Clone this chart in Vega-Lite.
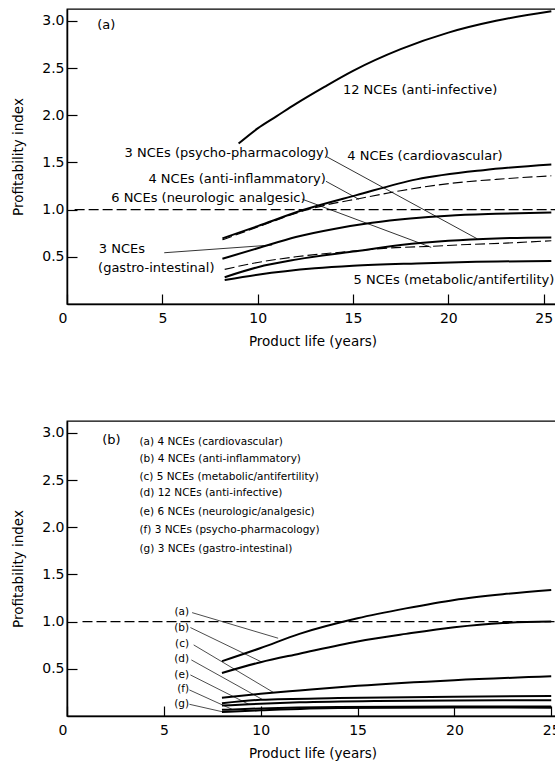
{
  "$schema": "https://vega.github.io/schema/vega-lite/v6.json",
  "padding": {"left": 10, "top": 6, "right": 0, "bottom": 0},
  "background": "white",
  "config": {
    "view": {"stroke": "black", "strokeWidth": 1.3},
    "font": "DejaVu Sans",
    "axis": {
      "grid": false,
      "domainColor": "black",
      "domainWidth": 1.5,
      "tickColor": "black",
      "tickWidth": 1.2,
      "tickSize": -10,
      "labelColor": "black",
      "titleColor": "black",
      "labelFont": "DejaVu Sans",
      "titleFont": "DejaVu Sans",
      "labelFontSize": 14,
      "titleFontSize": 13.5,
      "titleFontWeight": "normal"
    }
  },
  "datasets": {
    "curvesA": [
      {"series": "anti-infective", "t": 9.0, "v": 1.70},
      {"series": "anti-infective", "t": 10, "v": 1.86},
      {"series": "anti-infective", "t": 11, "v": 1.99},
      {"series": "anti-infective", "t": 12, "v": 2.12},
      {"series": "anti-infective", "t": 13.5, "v": 2.30},
      {"series": "anti-infective", "t": 15, "v": 2.47},
      {"series": "anti-infective", "t": 17.5, "v": 2.70},
      {"series": "anti-infective", "t": 20, "v": 2.875},
      {"series": "anti-infective", "t": 22.5, "v": 3.0},
      {"series": "anti-infective", "t": 25.4, "v": 3.10},
      {"series": "cardiovascular", "t": 8.15, "v": 0.695},
      {"series": "cardiovascular", "t": 10, "v": 0.825},
      {"series": "cardiovascular", "t": 12.38, "v": 0.995},
      {"series": "cardiovascular", "t": 15.18, "v": 1.153},
      {"series": "cardiovascular", "t": 18.33, "v": 1.32},
      {"series": "cardiovascular", "t": 21.83, "v": 1.418},
      {"series": "cardiovascular", "t": 25.4, "v": 1.478},
      {"series": "gastro-intestinal", "t": 8.15, "v": 0.48},
      {"series": "gastro-intestinal", "t": 10, "v": 0.59},
      {"series": "gastro-intestinal", "t": 12, "v": 0.71},
      {"series": "gastro-intestinal", "t": 14, "v": 0.795},
      {"series": "gastro-intestinal", "t": 16, "v": 0.86},
      {"series": "gastro-intestinal", "t": 18, "v": 0.905},
      {"series": "gastro-intestinal", "t": 20, "v": 0.935},
      {"series": "gastro-intestinal", "t": 22.5, "v": 0.955},
      {"series": "gastro-intestinal", "t": 25.4, "v": 0.97},
      {"series": "psycho-pharmacology", "t": 8.27, "v": 0.284},
      {"series": "psycho-pharmacology", "t": 10, "v": 0.39},
      {"series": "psycho-pharmacology", "t": 12, "v": 0.47},
      {"series": "psycho-pharmacology", "t": 15, "v": 0.555},
      {"series": "psycho-pharmacology", "t": 17.5, "v": 0.625},
      {"series": "psycho-pharmacology", "t": 20, "v": 0.67},
      {"series": "psycho-pharmacology", "t": 22.5, "v": 0.695},
      {"series": "psycho-pharmacology", "t": 25.4, "v": 0.705},
      {"series": "metabolic/antifertility", "t": 8.27, "v": 0.254},
      {"series": "metabolic/antifertility", "t": 10, "v": 0.31},
      {"series": "metabolic/antifertility", "t": 13, "v": 0.378},
      {"series": "metabolic/antifertility", "t": 15, "v": 0.405},
      {"series": "metabolic/antifertility", "t": 18.33, "v": 0.43},
      {"series": "metabolic/antifertility", "t": 21, "v": 0.445},
      {"series": "metabolic/antifertility", "t": 25.4, "v": 0.455}
    ],
    "dashedA": [
      {"series": "anti-inflammatory", "t": 8.15, "v": 0.68},
      {"series": "anti-inflammatory", "t": 10, "v": 0.815},
      {"series": "anti-inflammatory", "t": 12.38, "v": 0.985},
      {"series": "anti-inflammatory", "t": 13.5, "v": 1.045},
      {"series": "anti-inflammatory", "t": 15.36, "v": 1.118},
      {"series": "anti-inflammatory", "t": 17.5, "v": 1.2},
      {"series": "anti-inflammatory", "t": 20.08, "v": 1.277},
      {"series": "anti-inflammatory", "t": 22.5, "v": 1.32},
      {"series": "anti-inflammatory", "t": 25.4, "v": 1.358},
      {"series": "neurologic analgesic", "t": 8.27, "v": 0.367},
      {"series": "neurologic analgesic", "t": 10, "v": 0.44},
      {"series": "neurologic analgesic", "t": 12, "v": 0.50},
      {"series": "neurologic analgesic", "t": 15, "v": 0.56},
      {"series": "neurologic analgesic", "t": 17, "v": 0.595},
      {"series": "neurologic analgesic", "t": 19, "v": 0.61},
      {"series": "neurologic analgesic", "t": 21, "v": 0.63},
      {"series": "neurologic analgesic", "t": 23, "v": 0.645},
      {"series": "neurologic analgesic", "t": 25.4, "v": 0.67}
    ],
    "refA": [{"t": 0.4, "v": 1.0}, {"t": 25.75, "v": 1.0}],
    "refB": [{"t": 0.8, "v": 1.0}, {"t": 25.35, "v": 1.0}],
    "labelsA": [
      {"label": "(a)", "t": 1.58, "v": 2.96},
      {"label": "12 NCEs (anti-infective)", "t": 14.47, "v": 2.27},
      {"label": "3 NCEs (psycho-pharmacology)", "t": 3.02, "v": 1.60},
      {"label": "4 NCEs (cardiovascular)", "t": 14.7, "v": 1.57},
      {"label": "4 NCEs (anti-inflammatory)", "t": 4.27, "v": 1.32},
      {"label": "6 NCEs (neurologic analgesic)", "t": 2.32, "v": 1.125},
      {"label": "3 NCEs", "t": 1.67, "v": 0.586},
      {"label": "(gastro-intestinal)", "t": 1.63, "v": 0.383},
      {"label": "5 NCEs (metabolic/antifertility)", "t": 15.03, "v": 0.25}
    ],
    "leadersA": [
      {"t1": 13.62, "v1": 1.56, "t2": 21.52, "v2": 0.69},
      {"t1": 13.58, "v1": 1.30, "t2": 15.3, "v2": 1.11},
      {"t1": 12.34, "v1": 1.11, "t2": 19.1, "v2": 0.60},
      {"t1": 5.1, "v1": 0.543, "t2": 10.76, "v2": 0.625}
    ],
    "curvesB": [
      {"series": "a", "t": 8, "v": 0.58},
      {"series": "a", "t": 10, "v": 0.72},
      {"series": "a", "t": 12, "v": 0.87},
      {"series": "a", "t": 15, "v": 1.035},
      {"series": "a", "t": 17.5, "v": 1.14},
      {"series": "a", "t": 20, "v": 1.23},
      {"series": "a", "t": 22.5, "v": 1.29},
      {"series": "a", "t": 25, "v": 1.335},
      {"series": "b", "t": 8, "v": 0.456},
      {"series": "b", "t": 10, "v": 0.57},
      {"series": "b", "t": 12, "v": 0.66},
      {"series": "b", "t": 15, "v": 0.79},
      {"series": "b", "t": 17.5, "v": 0.87},
      {"series": "b", "t": 20, "v": 0.94},
      {"series": "b", "t": 22.5, "v": 0.985},
      {"series": "b", "t": 25, "v": 1.0},
      {"series": "c", "t": 8, "v": 0.194},
      {"series": "c", "t": 10, "v": 0.235},
      {"series": "c", "t": 12, "v": 0.27},
      {"series": "c", "t": 15, "v": 0.32},
      {"series": "c", "t": 20, "v": 0.38},
      {"series": "c", "t": 25, "v": 0.42},
      {"series": "d", "t": 8, "v": 0.135},
      {"series": "d", "t": 10, "v": 0.172},
      {"series": "d", "t": 14, "v": 0.19},
      {"series": "d", "t": 20, "v": 0.205},
      {"series": "d", "t": 25, "v": 0.212},
      {"series": "e", "t": 8, "v": 0.11},
      {"series": "e", "t": 9.4, "v": 0.124},
      {"series": "e", "t": 12, "v": 0.145},
      {"series": "e", "t": 16, "v": 0.16},
      {"series": "e", "t": 20, "v": 0.165},
      {"series": "e", "t": 25, "v": 0.166},
      {"series": "f", "t": 8, "v": 0.065},
      {"series": "f", "t": 10, "v": 0.08},
      {"series": "f", "t": 14, "v": 0.095},
      {"series": "f", "t": 20, "v": 0.10},
      {"series": "f", "t": 25, "v": 0.10},
      {"series": "g", "t": 8, "v": 0.042},
      {"series": "g", "t": 10, "v": 0.06},
      {"series": "g", "t": 14, "v": 0.085},
      {"series": "g", "t": 20, "v": 0.09},
      {"series": "g", "t": 25, "v": 0.088}
    ],
    "panelLabelB": [{"label": "(b)", "t": 1.82, "v": 2.92}],
    "legendB": [
      {"label": "(a) 4 NCEs (cardiovascular)", "t": 3.74, "v": 2.90},
      {"label": "(b) 4 NCEs (anti-inflammatory)", "t": 3.74, "v": 2.72},
      {"label": "(c) 5 NCEs (metabolic/antifertility)", "t": 3.74, "v": 2.537},
      {"label": "(d) 12 NCEs (anti-infective)", "t": 3.74, "v": 2.361},
      {"label": "(e) 6 NCEs (neurologic/analgesic)", "t": 3.74, "v": 2.165},
      {"label": "(f) 3 NCEs (psycho-pharmacology)", "t": 3.74, "v": 1.972},
      {"label": "(g) 3 NCEs (gastro-intestinal)", "t": 3.74, "v": 1.772}
    ],
    "lettersB": [
      {"label": "(a)", "t": 6.3, "v": 1.098},
      {"label": "(b)", "t": 6.3, "v": 0.93},
      {"label": "(c)", "t": 6.3, "v": 0.765},
      {"label": "(d)", "t": 6.3, "v": 0.60},
      {"label": "(e)", "t": 6.3, "v": 0.439},
      {"label": "(f)", "t": 6.3, "v": 0.281},
      {"label": "(g)", "t": 6.3, "v": 0.123}
    ],
    "leadersB": [
      {"t1": 6.46, "v1": 1.095, "t2": 10.9, "v2": 0.824},
      {"t1": 6.37, "v1": 0.937, "t2": 10.04, "v2": 0.573},
      {"t1": 6.54, "v1": 0.753, "t2": 10.68, "v2": 0.247},
      {"t1": 6.42, "v1": 0.594, "t2": 10.07, "v2": 0.177},
      {"t1": 6.37, "v1": 0.435, "t2": 9.38, "v2": 0.124},
      {"t1": 6.32, "v1": 0.276, "t2": 8.52, "v2": 0.071},
      {"t1": 6.32, "v1": 0.124, "t2": 8.0, "v2": 0.046}
    ]
  },
  "bounds": "flush",
  "spacing": 117,
  "vconcat": [
    {
      "width": 491,
      "height": 295,
      "layer": [
        {
          "data": {"name": "refA"},
          "mark": {"type": "line", "color": "black", "strokeWidth": 1.1, "strokeDash": [10, 4]},
          "encoding": {
            "x": {
              "field": "t", "type": "quantitative",
              "scale": {"domain": [0, 25.75], "nice": false},
              "title": "Product life (years)",
              "axis": {
                "values": [0, 5, 10, 15, 20, 25], "format": "d", "labelPadding": 17.7,
                "labelAlign": {"condition": {"test": "datum.value === 0", "value": "right"}, "value": "center"},
                "titleY": 37, "titleBaseline": "middle"
              }
            },
            "y": {
              "field": "v", "type": "quantitative",
              "scale": {"domain": [0, 3.125], "nice": false},
              "title": "Profitability index",
              "axis": {"values": [0.5, 1, 1.5, 2, 2.5, 3], "format": ".1f", "labelPadding": 13, "titleX": -49, "titleBaseline": "middle"}
            }
          }
        },
        {
          "data": {"name": "curvesA"},
          "mark": {"type": "line", "color": "black", "strokeWidth": 2, "interpolate": "monotone"},
          "encoding": {
            "x": {"field": "t", "type": "quantitative"},
            "y": {"field": "v", "type": "quantitative"},
            "detail": {"field": "series"}
          }
        },
        {
          "data": {"name": "dashedA"},
          "mark": {"type": "line", "color": "black", "strokeWidth": 1.1, "strokeDash": [10, 4], "interpolate": "monotone"},
          "encoding": {
            "x": {"field": "t", "type": "quantitative"},
            "y": {"field": "v", "type": "quantitative"},
            "detail": {"field": "series"}
          }
        },
        {
          "data": {"name": "leadersA"},
          "mark": {"type": "rule", "color": "black", "strokeWidth": 0.8},
          "encoding": {
            "x": {"field": "t1", "type": "quantitative"},
            "y": {"field": "v1", "type": "quantitative"},
            "x2": {"field": "t2"},
            "y2": {"field": "v2"}
          }
        },
        {
          "data": {"name": "labelsA"},
          "mark": {"type": "text", "align": "left", "baseline": "middle", "fontSize": 13, "color": "black", "font": "DejaVu Sans"},
          "encoding": {
            "x": {"field": "t", "type": "quantitative"},
            "y": {"field": "v", "type": "quantitative"},
            "text": {"field": "label"}
          }
        }
      ]
    },
    {
      "width": 491,
      "height": 295,
      "layer": [
        {
          "data": {"name": "refB"},
          "mark": {"type": "line", "color": "black", "strokeWidth": 1.1, "strokeDash": [10, 4]},
          "encoding": {
            "x": {
              "field": "t", "type": "quantitative",
              "scale": {"domain": [0, 25.35], "nice": false},
              "title": "Product life (years)",
              "axis": {
                "values": [0, 5, 10, 15, 20, 25], "format": "d", "labelPadding": 17.7,
                "labelAlign": {"condition": {"test": "datum.value === 0", "value": "right"}, "value": "center"},
                "titleY": 37, "titleBaseline": "middle"
              }
            },
            "y": {
              "field": "v", "type": "quantitative",
              "scale": {"domain": [0, 3.125], "nice": false},
              "title": "Profitability index",
              "axis": {"values": [0.5, 1, 1.5, 2, 2.5, 3], "format": ".1f", "labelPadding": 13, "titleX": -49, "titleBaseline": "middle"}
            }
          }
        },
        {
          "data": {"name": "curvesB"},
          "mark": {"type": "line", "color": "black", "strokeWidth": 2, "interpolate": "monotone"},
          "encoding": {
            "x": {"field": "t", "type": "quantitative"},
            "y": {"field": "v", "type": "quantitative"},
            "detail": {"field": "series"}
          }
        },
        {
          "data": {"name": "leadersB"},
          "mark": {"type": "rule", "color": "black", "strokeWidth": 0.7},
          "encoding": {
            "x": {"field": "t1", "type": "quantitative"},
            "y": {"field": "v1", "type": "quantitative"},
            "x2": {"field": "t2"},
            "y2": {"field": "v2"}
          }
        },
        {
          "data": {"name": "panelLabelB"},
          "mark": {"type": "text", "align": "left", "baseline": "middle", "fontSize": 13, "color": "black", "font": "DejaVu Sans"},
          "encoding": {
            "x": {"field": "t", "type": "quantitative"},
            "y": {"field": "v", "type": "quantitative"},
            "text": {"field": "label"}
          }
        },
        {
          "data": {"name": "legendB"},
          "mark": {"type": "text", "align": "left", "baseline": "middle", "fontSize": 10.5, "color": "black", "font": "DejaVu Sans"},
          "encoding": {
            "x": {"field": "t", "type": "quantitative"},
            "y": {"field": "v", "type": "quantitative"},
            "text": {"field": "label"}
          }
        },
        {
          "data": {"name": "lettersB"},
          "mark": {"type": "text", "align": "right", "baseline": "middle", "fontSize": 10.5, "color": "black", "font": "DejaVu Sans"},
          "encoding": {
            "x": {"field": "t", "type": "quantitative"},
            "y": {"field": "v", "type": "quantitative"},
            "text": {"field": "label"}
          }
        }
      ]
    }
  ]
}
